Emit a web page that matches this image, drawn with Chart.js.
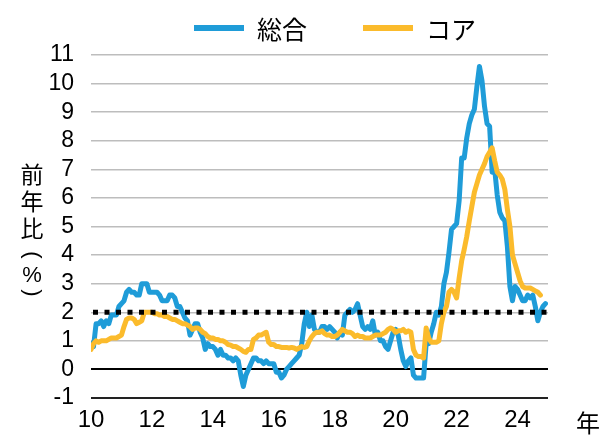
<!DOCTYPE html>
<html>
<head>
<meta charset="utf-8">
<script src="https://cdn.jsdelivr.net/npm/chart.js@4.4.1/dist/chart.umd.min.js"></script>
<style>
html, body { margin: 0; padding: 0; background: #fff; }
#wrap { width: 600px; height: 438px; }
</style>
</head>
<body>
<div id="wrap"><canvas id="grafica" width="600" height="438"></canvas></div>
<script>
// 前年比（%）, 月次 2010年1月〜2024年12月
const sogo = [
    0.9, 0.8, 1.6, 1.6, 1.7, 1.5, 1.7, 1.6, 1.9, 1.9, 1.9, 2.2,   // 2010
    2.3, 2.4, 2.7, 2.8, 2.7, 2.7, 2.6, 2.6, 3.0, 3.0, 3.0, 2.7,   // 2011
    2.7, 2.7, 2.7, 2.6, 2.4, 2.4, 2.4, 2.6, 2.6, 2.5, 2.2, 2.2,   // 2012
    2.0, 1.8, 1.7, 1.2, 1.4, 1.6, 1.6, 1.3, 1.1, 0.7, 0.9, 0.8,   // 2013
    0.8, 0.7, 0.5, 0.7, 0.5, 0.5, 0.4, 0.4, 0.3, 0.4, 0.3, -0.2,  // 2014
    -0.6, -0.2, 0.0, 0.2, 0.4, 0.4, 0.3, 0.3, 0.2, 0.3, 0.2, 0.2, // 2015
    0.2, -0.1, -0.1, -0.3, -0.2, 0.0, 0.1, 0.2, 0.3, 0.4, 0.5, 0.9, // 2016
    1.6, 2.0, 1.5, 1.9, 1.4, 1.3, 1.3, 1.5, 1.5, 1.4, 1.5, 1.4,   // 2017
    1.3, 1.1, 1.3, 1.2, 1.9, 2.0, 2.1, 2.0, 2.1, 2.3, 1.9, 1.5,   // 2018
    1.4, 1.5, 1.4, 1.7, 1.2, 1.3, 1.0, 1.0, 0.8, 0.7, 1.0, 1.3,   // 2019
    1.4, 1.2, 0.7, 0.3, 0.1, 0.3, 0.4, -0.2, -0.3, -0.3, -0.3, -0.3, // 2020
    0.9, 0.9, 1.3, 1.6, 2.0, 1.9, 2.2, 3.0, 3.4, 4.1, 4.9, 5.0,   // 2021
    5.1, 5.9, 7.4, 7.4, 8.1, 8.6, 8.9, 9.1, 9.9, 10.6, 10.1, 9.2, // 2022
    8.6, 8.5, 6.9, 7.0, 6.1, 5.5, 5.3, 5.2, 4.3, 2.9, 2.4, 2.9,   // 2023
    2.8, 2.6, 2.4, 2.4, 2.6, 2.5, 2.6, 2.2, 1.7, 2.0, 2.2, 2.3    // 2024
];
const core = [
    0.7, 0.9, 1.0, 0.95, 1.0, 1.0, 1.0, 1.05, 1.1, 1.1, 1.1, 1.15,   // 2010
    1.2, 1.5, 1.75, 1.8, 1.8, 1.75, 1.6, 1.65, 1.7, 2.0, 2.0, 2.0,   // 2011
    2.0, 1.95, 1.95, 1.9, 1.9, 1.85, 1.85, 1.8, 1.75, 1.75, 1.7, 1.65, // 2012
    1.6, 1.6, 1.55, 1.5, 1.4, 1.45, 1.45, 1.4, 1.3, 1.25, 1.15, 1.1, // 2013
    1.1, 1.05, 1.05, 1.0, 1.0, 0.95, 0.87, 0.85, 0.8, 0.8, 0.75, 0.7, // 2014
    0.63, 0.6, 0.7, 0.7, 1.05, 1.1, 1.2, 1.2, 1.25, 1.3, 0.95, 0.87, // 2015
    0.87, 0.8, 0.8, 0.77, 0.77, 0.77, 0.75, 0.77, 0.75, 0.7, 0.75, 0.8, // 2016
    0.77, 0.8, 1.0, 1.15, 1.25, 1.3, 1.3, 1.35, 1.25, 1.2, 1.2, 1.15, // 2017
    1.15, 1.2, 1.3, 1.4, 1.35, 1.3, 1.3, 1.25, 1.15, 1.2, 1.15, 1.15, // 2018
    1.1, 1.1, 1.1, 1.15, 1.2, 1.2, 1.2, 1.25, 1.3, 1.4, 1.45, 1.4,   // 2019
    1.3, 1.35, 1.35, 1.4, 1.3, 1.35, 1.3, 0.7, 0.5, 0.45, 0.45, 0.4, // 2020
    1.45, 1.1, 0.95, 0.95, 0.95, 1.0, 1.6, 2.0, 2.2, 2.7, 2.8, 2.7,  // 2021
    2.5, 3.2, 3.8, 4.2, 4.65, 5.2, 5.7, 6.2, 6.5, 6.8, 7.0, 7.2,     // 2022
    7.45, 7.6, 7.75, 7.3, 6.9, 6.8, 6.65, 6.3, 5.6, 5.0, 4.0, 3.7,   // 2023
    3.4, 3.1, 2.9, 2.85, 2.85, 2.85, 2.8, 2.75, 2.7, 2.6              // 2024（10月まで）
];
const seriesNames = ['総合', 'コア'];
const seriesColors = ['#1f9cd8', '#fbbb2c'];
const tickLabels = ['10', '12', '14', '16', '18', '20', '22', '24'];
const yTitle = ['前', '年', '比', '(', '%', ')'];
const target = 2;

const latin = "'Liberation Sans', Arial, sans-serif";
const cjk = "'Noto Sans CJK JP', sans-serif";

function toPoints(arr) {
    return arr.map(function (v, i) { return { x: i, y: v }; });
}

const extras = {
    id: 'extras',
    afterDatasetsDraw: function (chart) {
        const ctx = chart.ctx;
        const area = chart.chartArea;
        const y = chart.scales.y.getPixelForValue(target);
        ctx.save();
        ctx.strokeStyle = '#000';
        ctx.lineWidth = 5;
        ctx.setLineDash([5, 6.5]);
        ctx.beginPath();
        ctx.moveTo(area.left + 2, y);
        ctx.lineTo(area.right, y);
        ctx.stroke();
        ctx.restore();
    },
    afterDraw: function (chart) {
        const ctx = chart.ctx;
        ctx.save();
        // 凡例
        const starts = [194, 363];
        ctx.textBaseline = 'middle';
        ctx.textAlign = 'left';
        ctx.font = '25px ' + cjk;
        for (let i = 0; i < seriesNames.length; i++) {
            ctx.strokeStyle = seriesColors[i];
            ctx.lineWidth = 6;
            ctx.beginPath();
            ctx.moveTo(starts[i], 28);
            ctx.lineTo(starts[i] + 50, 28);
            ctx.stroke();
            ctx.fillStyle = '#000';
            ctx.fillText(seriesNames[i], starts[i] + 63, 29);
        }
        // 縦軸タイトル
        const ys = [174, 201, 228, 255, 276, 293];
        ctx.textAlign = 'center';
        for (let i = 0; i < yTitle.length; i++) {
            const ch = yTitle[i];
            if (ch === '(' || ch === ')') {
                ctx.save();
                ctx.translate(32, ys[i]);
                ctx.rotate(Math.PI / 2);
                ctx.font = '22px ' + latin;
                ctx.fillText(ch, 0, 0);
                ctx.restore();
            } else if (ch === '%') {
                ctx.font = '22px ' + latin;
                ctx.fillText(ch, 32, ys[i]);
            } else {
                ctx.font = '23px ' + cjk;
                ctx.fillText(ch, 32, ys[i]);
            }
        }
        // 横軸単位
        ctx.font = '24px ' + cjk;
        ctx.fillText('年', 588, 423);
        ctx.restore();
    }
};

const ctx = document.getElementById('grafica').getContext('2d');
const chart = new Chart(ctx, {
    type: 'line',
    data: {
        datasets: [
            {
                label: seriesNames[0],
                data: toPoints(sogo),
                borderColor: seriesColors[0],
                borderWidth: 5,
                borderJoinStyle: 'round',
                borderCapStyle: 'round',
                pointRadius: 0,
                tension: 0,
                order: 2
            },
            {
                label: seriesNames[1],
                data: toPoints(core),
                borderColor: seriesColors[1],
                borderWidth: 5,
                borderJoinStyle: 'round',
                borderCapStyle: 'round',
                pointRadius: 0,
                tension: 0,
                order: 1
            }
        ]
    },
    options: {
        responsive: false,
        animation: false,
        layout: { padding: { top: 55, right: 52, bottom: 0, left: 0 } },
        plugins: {
            legend: { display: false },
            tooltip: { enabled: false }
        },
        scales: {
            x: {
                type: 'linear',
                min: 0,
                max: 180,
                afterFit: function (scale) { scale.height = 40; },
                grid: { display: false, drawTicks: false },
                border: { display: false },
                ticks: {
                    stepSize: 24,
                    includeBounds: false,
                    autoSkip: false,
                    maxRotation: 0,
                    padding: 8,
                    color: '#000',
                    font: { family: latin, size: 24 },
                    callback: function (v) {
                        const k = v / 24;
                        return Number.isInteger(k) && tickLabels[k] ? tickLabels[k] : '';
                    }
                }
            },
            y: {
                min: -1,
                max: 11,
                afterFit: function (scale) { scale.width = 91; },
                border: { display: false },
                grid: {
                    drawTicks: false,
                    color: function (c) {
                        if (c.tick.value === 0) return '#000';
                        if (c.tick.value === -1) return '#222';
                        return '#bdbdbd';
                    },
                    lineWidth: function (c) {
                        if (c.tick.value === 0 || c.tick.value === -1) return 2;
                        return 1.5;
                    }
                },
                ticks: {
                    stepSize: 1,
                    autoSkip: false,
                    padding: 17,
                    color: '#000',
                    font: { family: latin, size: 23 }
                }
            }
        }
    },
    plugins: [extras]
});
</script>
</body>
</html>
